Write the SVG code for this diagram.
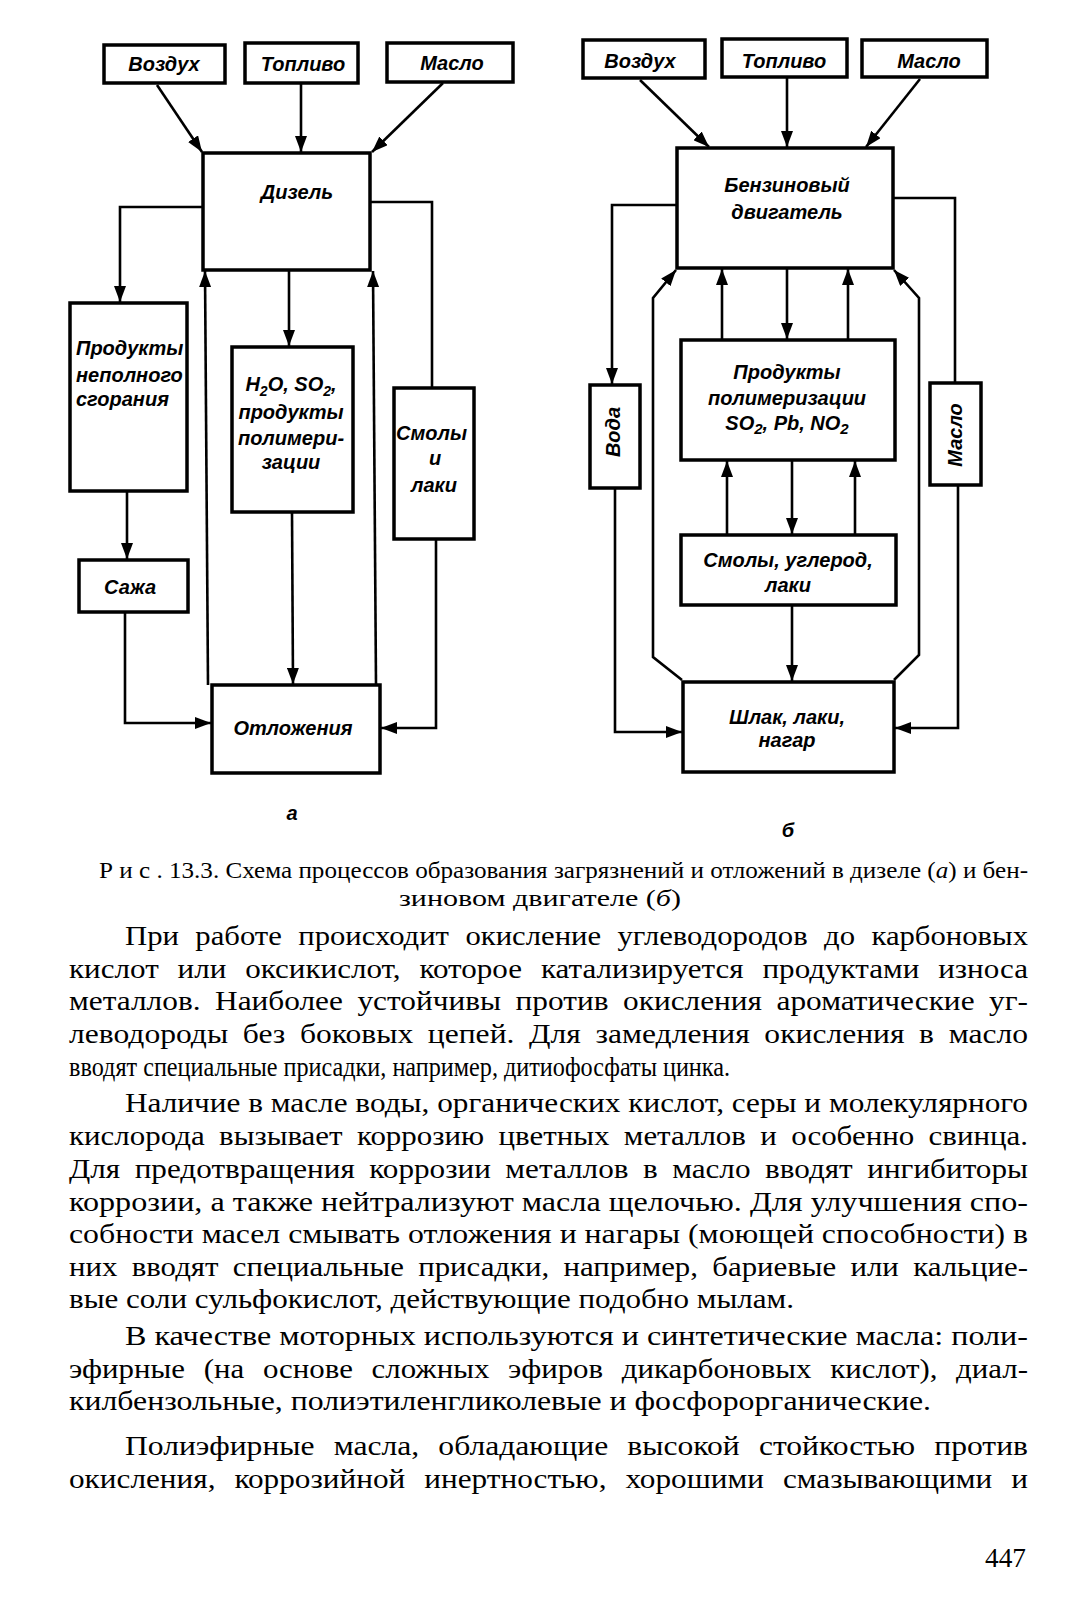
<svg xmlns="http://www.w3.org/2000/svg" width="1072" height="1600" viewBox="0 0 1072 1600">
<style>
.box{fill:#fff;stroke:#000;stroke-width:3.5}
.ln{fill:none;stroke:#000;stroke-width:2.6}
.lbl{font-family:"Liberation Sans",Arial,sans-serif;font-style:italic;font-weight:bold;font-size:20px;fill:#000}
.c{text-anchor:middle}
.body{font-family:"Liberation Serif","Times New Roman",serif;font-size:28px;fill:#000}
.cap{font-family:"Liberation Serif","Times New Roman",serif;font-size:24px;fill:#000}
</style>
<defs>
<marker id="ah" markerUnits="userSpaceOnUse" markerWidth="16" markerHeight="12" refX="16" refY="6" orient="auto">
<path d="M0,0 L16,6 L0,12 z" fill="#000"/>
</marker>
</defs>
<rect width="1072" height="1600" fill="#fff"/>

<g id="connectors">
<!-- diagram a -->
<line class="ln" x1="157" y1="85" x2="202" y2="152" marker-end="url(#ah)"/>
<line class="ln" x1="301" y1="83" x2="301" y2="152" marker-end="url(#ah)"/>
<line class="ln" x1="443" y1="83" x2="372" y2="152" marker-end="url(#ah)"/>
<polyline class="ln" points="203,207 120,207 120,302" marker-end="url(#ah)"/>
<line class="ln" x1="289" y1="270" x2="289" y2="346" marker-end="url(#ah)"/>
<polyline class="ln" points="370,202 432,202 432,388"/>
<line class="ln" x1="127" y1="491" x2="127" y2="559" marker-end="url(#ah)"/>
<polyline class="ln" points="125,612 125,723 211,723" marker-end="url(#ah)"/>
<line class="ln" x1="292" y1="512" x2="293" y2="684" marker-end="url(#ah)"/>
<polyline class="ln" points="436,539 436,728 381,728" marker-end="url(#ah)"/>
<line class="ln" x1="208" y1="685" x2="205" y2="271" marker-end="url(#ah)"/>
<line class="ln" x1="376" y1="685" x2="373" y2="271" marker-end="url(#ah)"/>
<!-- diagram b -->
<line class="ln" x1="640" y1="80" x2="709" y2="147" marker-end="url(#ah)"/>
<line class="ln" x1="787" y1="77" x2="787" y2="147" marker-end="url(#ah)"/>
<line class="ln" x1="920" y1="79" x2="866" y2="147" marker-end="url(#ah)"/>
<polyline class="ln" points="677,205 612,205 612,384" marker-end="url(#ah)"/>
<polyline class="ln" points="893,198 955,198 955,383"/>
<polyline class="ln" points="615,488 615,732 682,732" marker-end="url(#ah)"/>
<polyline class="ln" points="958,485 958,728 895,728" marker-end="url(#ah)"/>
<polyline class="ln" points="682,680 653,657 653,298 676,270" marker-end="url(#ah)"/>
<polyline class="ln" points="894,680 919,655 919,298 894,270" marker-end="url(#ah)"/>
<line class="ln" x1="722" y1="340" x2="722" y2="269" marker-end="url(#ah)"/>
<line class="ln" x1="848" y1="340" x2="848" y2="269" marker-end="url(#ah)"/>
<line class="ln" x1="787" y1="268" x2="787" y2="339" marker-end="url(#ah)"/>
<line class="ln" x1="727" y1="535" x2="727" y2="461" marker-end="url(#ah)"/>
<line class="ln" x1="855" y1="535" x2="855" y2="461" marker-end="url(#ah)"/>
<line class="ln" x1="792" y1="460" x2="792" y2="534" marker-end="url(#ah)"/>
<line class="ln" x1="792" y1="605" x2="792" y2="681" marker-end="url(#ah)"/>
</g>

<!-- diagram a nodes -->
<g id="a-vozduh"><rect class="box" x="104" y="45" width="121" height="38"/><text class="lbl c" x="164" y="71">Воздух</text></g>
<g id="a-toplivo"><rect class="box" x="245" y="43" width="113" height="40"/><text class="lbl c" x="303" y="71">Топливо</text></g>
<g id="a-maslo"><rect class="box" x="387" y="43" width="126" height="39"/><text class="lbl c" x="452" y="70">Масло</text></g>
<g id="a-dizel"><rect class="box" x="203" y="153" width="167" height="117"/><text class="lbl c" x="297" y="199">Дизель</text></g>
<g id="a-produkty"><rect class="box" x="70" y="303" width="117" height="188"/>
<text class="lbl" x="76" y="355">Продукты</text><text class="lbl" x="76" y="382">неполного</text><text class="lbl" x="76" y="406">сгорания</text></g>
<g id="a-h2o"><rect class="box" x="232" y="347" width="121" height="165"/>
<text class="lbl c" x="291" y="391">H<tspan dy="5" font-size="14">2</tspan><tspan dy="-5">O, SO</tspan><tspan dy="5" font-size="14">2</tspan><tspan dy="-5">,</tspan></text>
<text class="lbl c" x="291" y="419">продукты</text><text class="lbl c" x="291" y="445">полимери-</text><text class="lbl c" x="291" y="469">зации</text></g>
<g id="a-smoly"><rect class="box" x="394" y="388" width="80" height="151"/>
<text class="lbl" x="396" y="440">Смолы</text><text class="lbl c" x="435" y="465">и</text><text class="lbl c" x="434" y="492">лаки</text></g>
<g id="a-sazha"><rect class="box" x="79" y="560" width="109" height="52"/><text class="lbl c" x="130" y="594">Сажа</text></g>
<g id="a-otlozh"><rect class="box" x="212" y="685" width="168" height="88"/><text class="lbl c" x="293" y="735">Отложения</text></g>
<text class="lbl c" x="292" y="820">а</text>

<!-- diagram b nodes -->
<g id="b-vozduh"><rect class="box" x="583" y="40" width="122" height="38"/><text class="lbl c" x="640" y="68">Воздух</text></g>
<g id="b-toplivo"><rect class="box" x="722" y="39" width="125" height="38"/><text class="lbl c" x="784" y="68">Топливо</text></g>
<g id="b-maslo"><rect class="box" x="862" y="40" width="125" height="37"/><text class="lbl c" x="929" y="68">Масло</text></g>
<g id="b-benzin"><rect class="box" x="677" y="148" width="216" height="120"/>
<text class="lbl c" x="787" y="192">Бензиновый</text><text class="lbl c" x="787" y="219">двигатель</text></g>
<g id="b-voda"><rect class="box" x="590" y="385" width="50" height="103"/><text class="lbl c" transform="translate(620,432) rotate(-90)" x="0" y="0">Вода</text></g>
<g id="b-produkty"><rect class="box" x="681" y="340" width="214" height="120"/>
<text class="lbl c" x="787" y="379">Продукты</text><text class="lbl c" x="787" y="405">полимеризации</text>
<text class="lbl c" x="787" y="430">SO<tspan dy="4" font-size="15">2</tspan><tspan dy="-4">, Pb, NO</tspan><tspan dy="4" font-size="15">2</tspan></text></g>
<g id="b-maslo2"><rect class="box" x="930" y="383" width="51" height="102"/><text class="lbl c" transform="translate(962,435) rotate(-90)" x="0" y="0">Масло</text></g>
<g id="b-smoly"><rect class="box" x="681" y="535" width="215" height="70"/>
<text class="lbl c" x="788" y="567">Смолы, углерод,</text><text class="lbl c" x="788" y="592">лаки</text></g>
<g id="b-shlak"><rect class="box" x="683" y="682" width="211" height="90"/>
<text class="lbl c" x="787" y="724">Шлак, лаки,</text><text class="lbl c" x="787" y="747">нагар</text></g>
<text class="lbl c" x="788" y="837">б</text>

<!-- caption -->
<text class="cap" x="99" y="878" textLength="929" lengthAdjust="spacingAndGlyphs">Р и с . 13.3. Схема процессов образования загрязнений и отложений в дизеле (<tspan font-style="italic">а</tspan>) и бен-</text>
<text class="cap" x="399" y="906" textLength="282" lengthAdjust="spacingAndGlyphs">зиновом двигателе (<tspan font-style="italic">б</tspan>)</text>

<!-- body text -->
<g class="body">
<text x="125" y="945" textLength="903" lengthAdjust="spacingAndGlyphs" word-spacing="8">При работе происходит окисление углеводородов до карбоновых</text>
<text x="69" y="978" textLength="959" lengthAdjust="spacingAndGlyphs" word-spacing="10">кислот или оксикислот, которое катализируется продуктами износа</text>
<text x="69" y="1010" textLength="959" lengthAdjust="spacingAndGlyphs" word-spacing="6">металлов. Наиболее устойчивы против окисления ароматические уг-</text>
<text x="69" y="1043" textLength="959" lengthAdjust="spacingAndGlyphs" word-spacing="6">леводороды без боковых цепей. Для замедления окисления в масло</text>
<text x="69" y="1076" textLength="661" lengthAdjust="spacingAndGlyphs">вводят специальные присадки, например, дитиофосфаты цинка.</text>
<text x="125" y="1112" textLength="903" lengthAdjust="spacingAndGlyphs">Наличие в масле воды, органических кислот, серы и молекулярного</text>
<text x="69" y="1145" textLength="959" lengthAdjust="spacingAndGlyphs" word-spacing="6">кислорода вызывает коррозию цветных металлов и особенно свинца.</text>
<text x="69" y="1178" textLength="959" lengthAdjust="spacingAndGlyphs" word-spacing="6">Для предотвращения коррозии металлов в масло вводят ингибиторы</text>
<text x="69" y="1211" textLength="959" lengthAdjust="spacingAndGlyphs">коррозии, а также нейтрализуют масла щелочью. Для улучшения спо-</text>
<text x="69" y="1243" textLength="959" lengthAdjust="spacingAndGlyphs">собности масел смывать отложения и нагары (моющей способности) в</text>
<text x="69" y="1276" textLength="959" lengthAdjust="spacingAndGlyphs" word-spacing="6">них вводят специальные присадки, например, бариевые или кальцие-</text>
<text x="69" y="1308" textLength="725" lengthAdjust="spacingAndGlyphs">вые соли сульфокислот, действующие подобно мылам.</text>
<text x="125" y="1345" textLength="903" lengthAdjust="spacingAndGlyphs">В качестве моторных используются и синтетические масла: поли-</text>
<text x="69" y="1378" textLength="959" lengthAdjust="spacingAndGlyphs" word-spacing="10">эфирные (на основе сложных эфиров дикарбоновых кислот), диал-</text>
<text x="69" y="1410" textLength="862" lengthAdjust="spacingAndGlyphs">килбензольные, полиэтиленгликолевые и фосфорорганические.</text>
<text x="125" y="1455" textLength="903" lengthAdjust="spacingAndGlyphs" word-spacing="10">Полиэфирные масла, обладающие высокой стойкостью против</text>
<text x="69" y="1488" textLength="959" lengthAdjust="spacingAndGlyphs" word-spacing="10">окисления, коррозийной инертностью, хорошими смазывающими и</text>
<text x="985" y="1567" textLength="41" lengthAdjust="spacingAndGlyphs">447</text>
</g>
</svg>
